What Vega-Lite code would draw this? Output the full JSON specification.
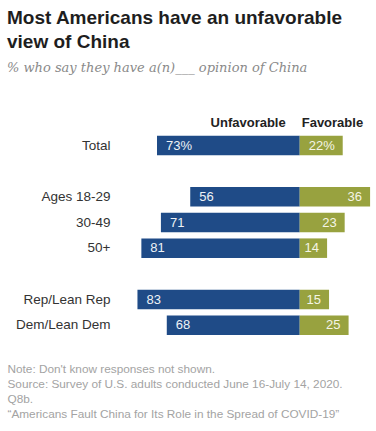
{
  "$schema": "https://vega.github.io/schema/vega-lite/v6.json",
  "autosize": {"type": "none"},
  "width": 260,
  "height": 231,
  "padding": {"left": 114, "top": 107, "right": 2, "bottom": 93},
  "background": "white",
  "title": {
    "text": ["Most Americans have an unfavorable", "view of China"],
    "subtitle": "% who say they have a(n)___ opinion of China",
    "anchor": "start",
    "frame": "group",
    "dx": -107,
    "offset": 32,
    "font": "Liberation Sans",
    "fontSize": 19,
    "fontWeight": "bold",
    "lineHeight": 24,
    "color": "#1e1e1e",
    "subtitleFont": "DejaVu Serif",
    "subtitleFontStyle": "italic",
    "subtitleFontSize": 13,
    "subtitleColor": "#8a8a8a",
    "subtitlePadding": 10
  },
  "config": {
    "view": {"stroke": null},
    "font": "Liberation Sans"
  },
  "data": {
    "values": [
      {"group": "Total", "unfavorable": 73, "favorable": 22, "uLabel": "73%", "fLabel": "22%"},
      {"group": "Ages 18-29", "unfavorable": 56, "favorable": 36, "uLabel": "56", "fLabel": "36"},
      {"group": "30-49", "unfavorable": 71, "favorable": 23, "uLabel": "71", "fLabel": "23"},
      {"group": "50+", "unfavorable": 81, "favorable": 14, "uLabel": "81", "fLabel": "14"},
      {"group": "Rep/Lean Rep", "unfavorable": 83, "favorable": 15, "uLabel": "83", "fLabel": "15"},
      {"group": "Dem/Lean Dem", "unfavorable": 68, "favorable": 25, "uLabel": "68", "fLabel": "25"}
    ]
  },
  "encoding": {
    "y": {
      "field": "group",
      "type": "nominal",
      "sort": null,
      "scale": {
        "domain": ["hdr", "Total", "b1", "Ages 18-29", "30-49", "50+", "b2", "Rep/Lean Rep", "Dem/Lean Dem"],
        "paddingInner": 0.24,
        "paddingOuter": 0.12
      },
      "axis": {
        "title": null,
        "domain": false,
        "ticks": false,
        "labelPadding": 4,
        "labelFontSize": 13.5,
        "labelColor": "#333333",
        "labelFont": "Liberation Sans",
        "labelExpr": "datum.value == 'hdr' || datum.value == 'b1' || datum.value == 'b2' ? '' : datum.value"
      }
    }
  },
  "layer": [
    {
      "mark": {"type": "bar", "color": "#1f4b87"},
      "encoding": {
        "x": {"field": "unfavorable", "type": "quantitative", "scale": {"domain": [-38, 95], "reverse": true, "nice": false, "zero": false}, "axis": null},
        "x2": {"datum": 0}
      }
    },
    {
      "mark": {"type": "text", "align": "left", "baseline": "middle", "dx": 9, "fontSize": 13, "color": "#eef2f6"},
      "encoding": {
        "x": {"field": "unfavorable", "type": "quantitative", "scale": {"domain": [-38, 95], "reverse": true, "nice": false, "zero": false}, "axis": null},
        "text": {"field": "uLabel"}
      }
    },
    {
      "mark": {"type": "bar", "color": "#98a23f"},
      "encoding": {
        "x": {
          "field": "favorable",
          "type": "quantitative",
          "scale": {"domain": [-95, 38], "nice": false, "zero": false},
          "axis": {
            "domain": false,
            "ticks": false,
            "labels": false,
            "grid": false,
            "title": [
              "Note: Don't know responses not shown.",
              "Source: Survey of U.S. adults conducted June 16-July 14, 2020.",
              "Q8b.",
              "“Americans Fault China for Its Role in the Spread of COVID-19”"
            ],
            "titleFont": "Liberation Sans",
            "titleFontSize": 11.8,
            "titleFontWeight": "normal",
            "titleColor": "#a3a3a3",
            "titleAlign": "left",
            "titleAnchor": "start",
            "titleBaseline": "alphabetic",
            "titleLineHeight": 15,
            "titleX": -107,
            "titleY": 34
          }
        },
        "x2": {"datum": 0}
      }
    },
    {
      "mark": {"type": "text", "align": "right", "baseline": "middle", "dx": -8, "fontSize": 13, "color": "#f4f5e6"},
      "encoding": {
        "x": {"field": "favorable", "type": "quantitative", "scale": {"domain": [-95, 38], "nice": false, "zero": false}, "axis": null},
        "text": {"field": "fLabel"}
      }
    },
    {
      "data": {"values": [{"group": "hdr", "pos": 0, "header": "Unfavorable"}]},
      "mark": {"type": "text", "align": "right", "baseline": "middle", "dx": -14, "dy": 3, "fontSize": 13, "fontWeight": "bold", "color": "#222222"},
      "encoding": {
        "x": {"field": "pos", "type": "quantitative", "scale": {"domain": [-95, 38], "nice": false, "zero": false}, "axis": null},
        "text": {"field": "header"}
      }
    },
    {
      "data": {"values": [{"group": "hdr", "pos": 0, "header": "Favorable"}]},
      "mark": {"type": "text", "align": "left", "baseline": "middle", "dx": 2, "dy": 3, "fontSize": 13, "fontWeight": "bold", "color": "#222222"},
      "encoding": {
        "x": {"field": "pos", "type": "quantitative", "scale": {"domain": [-95, 38], "nice": false, "zero": false}, "axis": null},
        "text": {"field": "header"}
      }
    }
  ],
  "resolve": {"scale": {"x": "independent"}}
}
